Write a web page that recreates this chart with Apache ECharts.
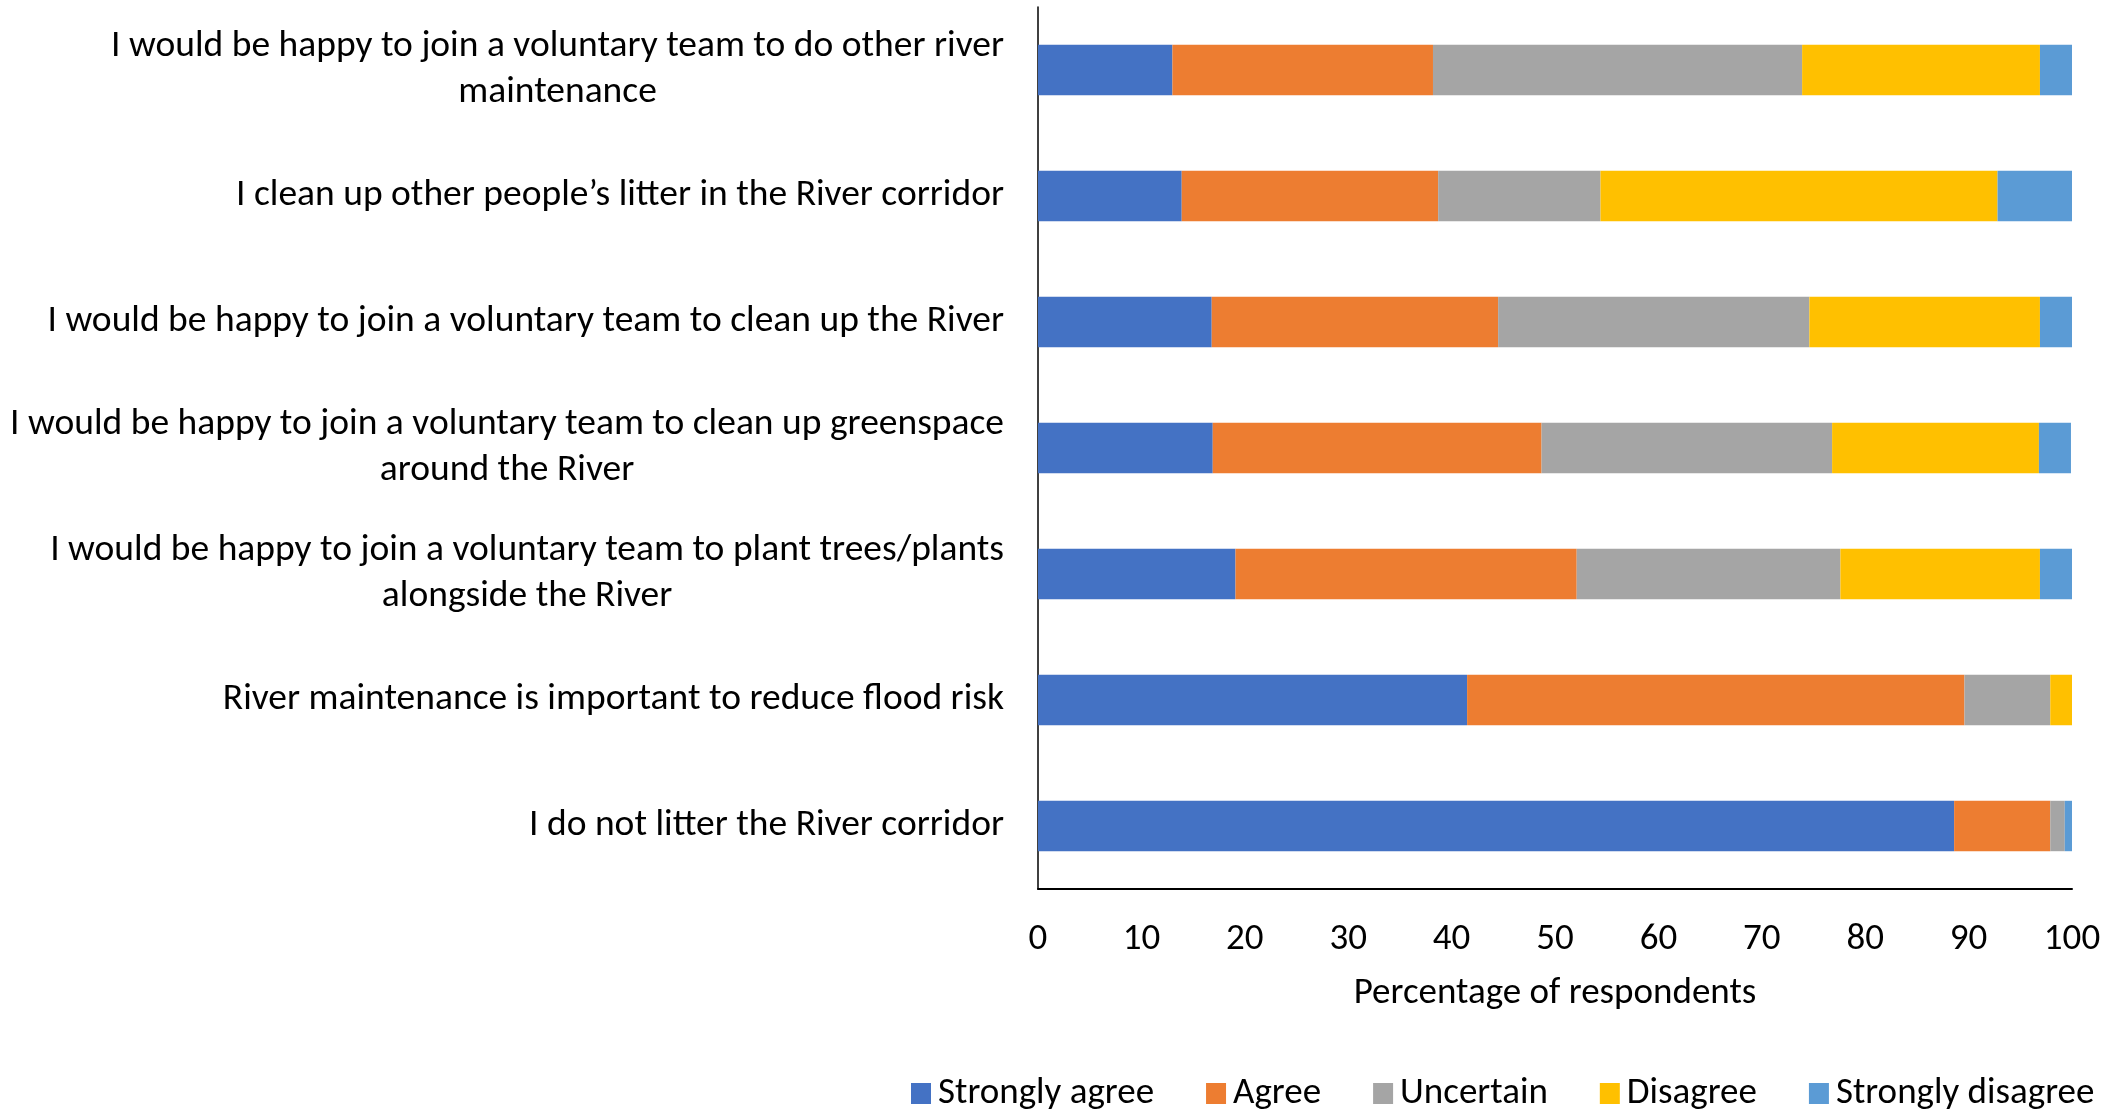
<!DOCTYPE html>
<html>
<head>
<meta charset="utf-8">
<title>River attitudes</title>
<script src="https://cdn.jsdelivr.net/npm/echarts@6/dist/echarts.min.js"></script>
<style>
  html, body { margin: 0; padding: 0; background: #fff; }
  #chart { width: 2125px; height: 1109px; }
</style>
</head>
<body>
<div id="chart"></div>
<script>
// categories, top to bottom as in the picture
var categories = [
  'I would be happy to join a voluntary team to do other river\nmaintenance',
  'I clean up other people\u2019s litter in the River corridor',
  'I would be happy to join a voluntary team to clean up the River',
  'I would be happy to join a voluntary team to clean up greenspace\naround the River',
  'I would be happy to join a voluntary team to plant trees/plants\nalongside the River',
  'River maintenance is important to reduce flood risk',
  'I do not litter the River corridor'
];

var seriesNames = ['Strongly agree', 'Agree', 'Uncertain', 'Disagree', 'Strongly disagree'];

// percentage of respondents
var stronglyAgree    = [13.0, 13.9, 16.8, 16.9, 19.1, 41.5, 88.6];
var agree            = [25.2, 24.8, 27.7, 31.8, 33.0, 48.1, 9.3];
var uncertain        = [35.7, 15.7, 30.1, 28.1, 25.5, 8.3, 1.4];
var disagree         = [23.0, 38.4, 22.3, 20.0, 19.3, 2.1, 0];
var stronglyDisagree = [3.2, 7.2, 3.1, 3.1, 3.1, 0, 0.7];

var xTicks = [0, 10, 20, 30, 40, 50, 60, 70, 80, 90, 100];

var colors = ['#4472C4', '#ED7D31', '#A5A5A5', '#FFC000', '#5B9BD5'];
var font = 'Carlito, Calibri, Lato, sans-serif';
var fs = 37;

var chart = echarts.init(document.getElementById('chart'));

var values = [stronglyAgree, agree, uncertain, disagree, stronglyDisagree];
var series = seriesNames.map(function (name, i) {
  return {
    name: name,
    type: 'bar',
    stack: 'total',
    barCategoryGap: '60%',
    data: values[i],
    itemStyle: { color: colors[i] }
  };
});

chart.setOption({
  animation: false,
  color: colors,
  grid: {
    left: 1038,
    right: 53,
    top: 7,
    bottom: 220,
    outerBoundsMode: 'none'
  },
  legend: {
    data: seriesNames,
    left: 906,
    top: 1070,
    icon: 'rect',
    itemWidth: 20,
    itemHeight: 21,
    itemGap: 52,
    textStyle: { fontFamily: font, fontSize: fs, color: '#000', padding: [0, 0, 0, 2] }
  },
  xAxis: {
    type: 'value',
    min: xTicks[0],
    max: xTicks[xTicks.length - 1],
    interval: 10,
    name: 'Percentage of respondents',
    nameLocation: 'middle',
    nameGap: 86,
    nameTextStyle: { fontFamily: font, fontSize: fs, color: '#000' },
    axisLine: { show: true, lineStyle: { color: '#000', width: 2 } },
    axisTick: { show: false },
    splitLine: { show: false },
    axisLabel: { fontFamily: font, fontSize: fs, color: '#000', margin: 32 }
  },
  yAxis: {
    type: 'category',
    inverse: true,
    data: categories,
    axisLine: { show: true, lineStyle: { color: '#000', width: 1.5 } },
    axisTick: { show: false },
    axisLabel: {
      margin: 34,
      formatter: function (v) {
        return v.split('\n').map(function (s) { return '{c|' + s + '}'; }).join('\n');
      },
      rich: {
        c: { align: 'center', fontFamily: font, fontSize: 37.5, lineHeight: 46, color: '#000' }
      }
    }
  },
  series: series
});
</script>
</body>
</html>
